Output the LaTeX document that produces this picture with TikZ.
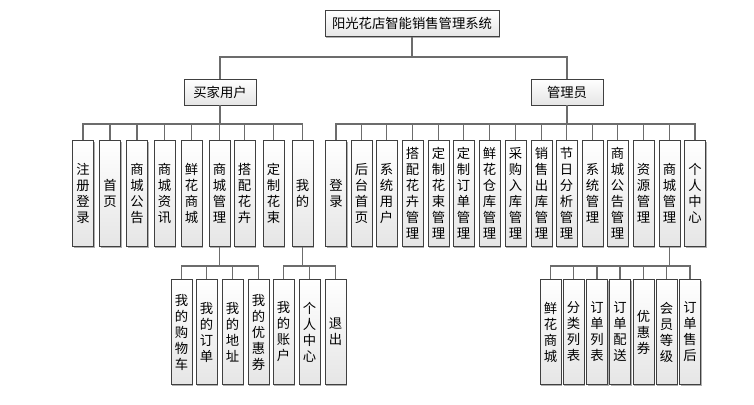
\documentclass[tikz,border=0pt]{standalone}
\usepackage{fontspec}
\setmainfont{Noto Sans CJK SC}
\usetikzlibrary{shadows}
\begin{document}
\begin{tikzpicture}[x=0.75pt,y=-0.75pt,
  box/.style={draw=gray!50!black, line width=0.6pt, top color=white, bottom color=gray!20,
    drop shadow={shadow xshift=1pt, shadow yshift=-1pt, fill=gray!70, opacity=0.9},
    font=\fontsize{10}{12}\selectfont, inner sep=0pt},
  hbox/.style={box, minimum height=19.5pt},
  vbox/.style={box, minimum width=15.75pt, minimum height=79pt, text width=10pt, align=center},
  conn/.style={draw=gray!85!black, line width=0.9pt}]
\useasboundingbox (0,0) rectangle (754,404);
\coordinate (bus1) at (0,57);
\coordinate (bus2) at (0,124);
\coordinate (bus3) at (0,266);
\node[hbox, minimum width=130.5pt] (root) at (412,23.5) {阳光花店智能销售管理系统};
\node[hbox, minimum width=54pt] (buyer) at (220,92) {买家用户};
\node[hbox, minimum width=54pt] (admin) at (567,92) {管理员};
\draw[conn] (root.south) -- (root.south |- bus1) -| (buyer.north);
\draw[conn] (root.south) -- (root.south |- bus1) -| (admin.north);
\foreach \n/\x/\t in {b1/83/{注\\册\\登\\录}, b2/110/{首\\页}, b3/137/{商\\城\\公\\告}, b4/164.5/{商\\城\\资\\讯},
  b5/191.5/{鲜\\花\\商\\城}, b6/219.5/{商\\城\\管\\理}, b7/244.5/{搭\\配\\花\\卉}, b8/273.5/{定\\制\\花\\束}, b9/302.5/{我\\的}}{
  \node[vbox] (\n) at (\x,193.5) {\t};
  \draw[conn] (buyer.south) -- (buyer.south |- bus2) -| (\n.north);
}
\foreach \n/\x/\t in {a1/336/{登\\录}, a2/361.5/{后\\台\\首\\页}, a3/386.5/{系\\统\\用\\户}, a4/412.5/{搭\\配\\花\\卉\\管\\理},
  a5/438.5/{定\\制\\花\\束\\管\\理}, a6/463.5/{定\\制\\订\\单\\管\\理}, a7/489.5/{鲜\\花\\仓\\库\\管\\理}, a8/515.5/{采\\购\\入\\库\\管\\理},
  a9/541.5/{销\\售\\出\\库\\管\\理}, a10/566.5/{节\\日\\分\\析\\管\\理}, a11/592.5/{系\\统\\管\\理}, a12/617.5/{商\\城\\公\\告\\管\\理},
  a13/643.5/{资\\源\\管\\理}, a14/669.5/{商\\城\\管\\理}, a15/695/{个\\人\\中\\心}}{
  \node[vbox] (\n) at (\x,193.5) {\t};
  \draw[conn] (admin.south) -- (admin.south |- bus2) -| (\n.north);
}
\foreach \n/\x/\t in {c1/181.5/{我\\的\\购\\物\\车}, c2/206.5/{我\\的\\订\\单}, c3/232.5/{我\\的\\地\\址}, c4/258.5/{我\\的\\优\\惠\\券}}{
  \node[vbox] (\n) at (\x,332) {\t};
  \draw[conn] (b6.south) -- (b6.south |- bus3) -| (\n.north);
}
\foreach \n/\x/\t in {d1/283.5/{我\\的\\账\\户}, d2/309.5/{个\\人\\中\\心}, d3/335.5/{退\\出}}{
  \node[vbox] (\n) at (\x,332) {\t};
  \draw[conn] (b9.south) -- (b9.south |- bus3) -| (\n.north);
}
\foreach \n/\x/\t in {e1/550.5/{鲜\\花\\商\\城}, e2/573.5/{分\\类\\列\\表}, e3/597/{订\\单\\列\\表}, e4/620/{订\\单\\配\\送},
  e5/643.5/{优\\惠\\券}, e6/666.5/{会\\员\\等\\级}, e7/690/{订\\单\\售\\后}}{
  \node[vbox] (\n) at (\x,332) {\t};
  \draw[conn] (a14.south) -- (a14.south |- bus3) -| (\n.north);
}
\end{tikzpicture}
\end{document}
